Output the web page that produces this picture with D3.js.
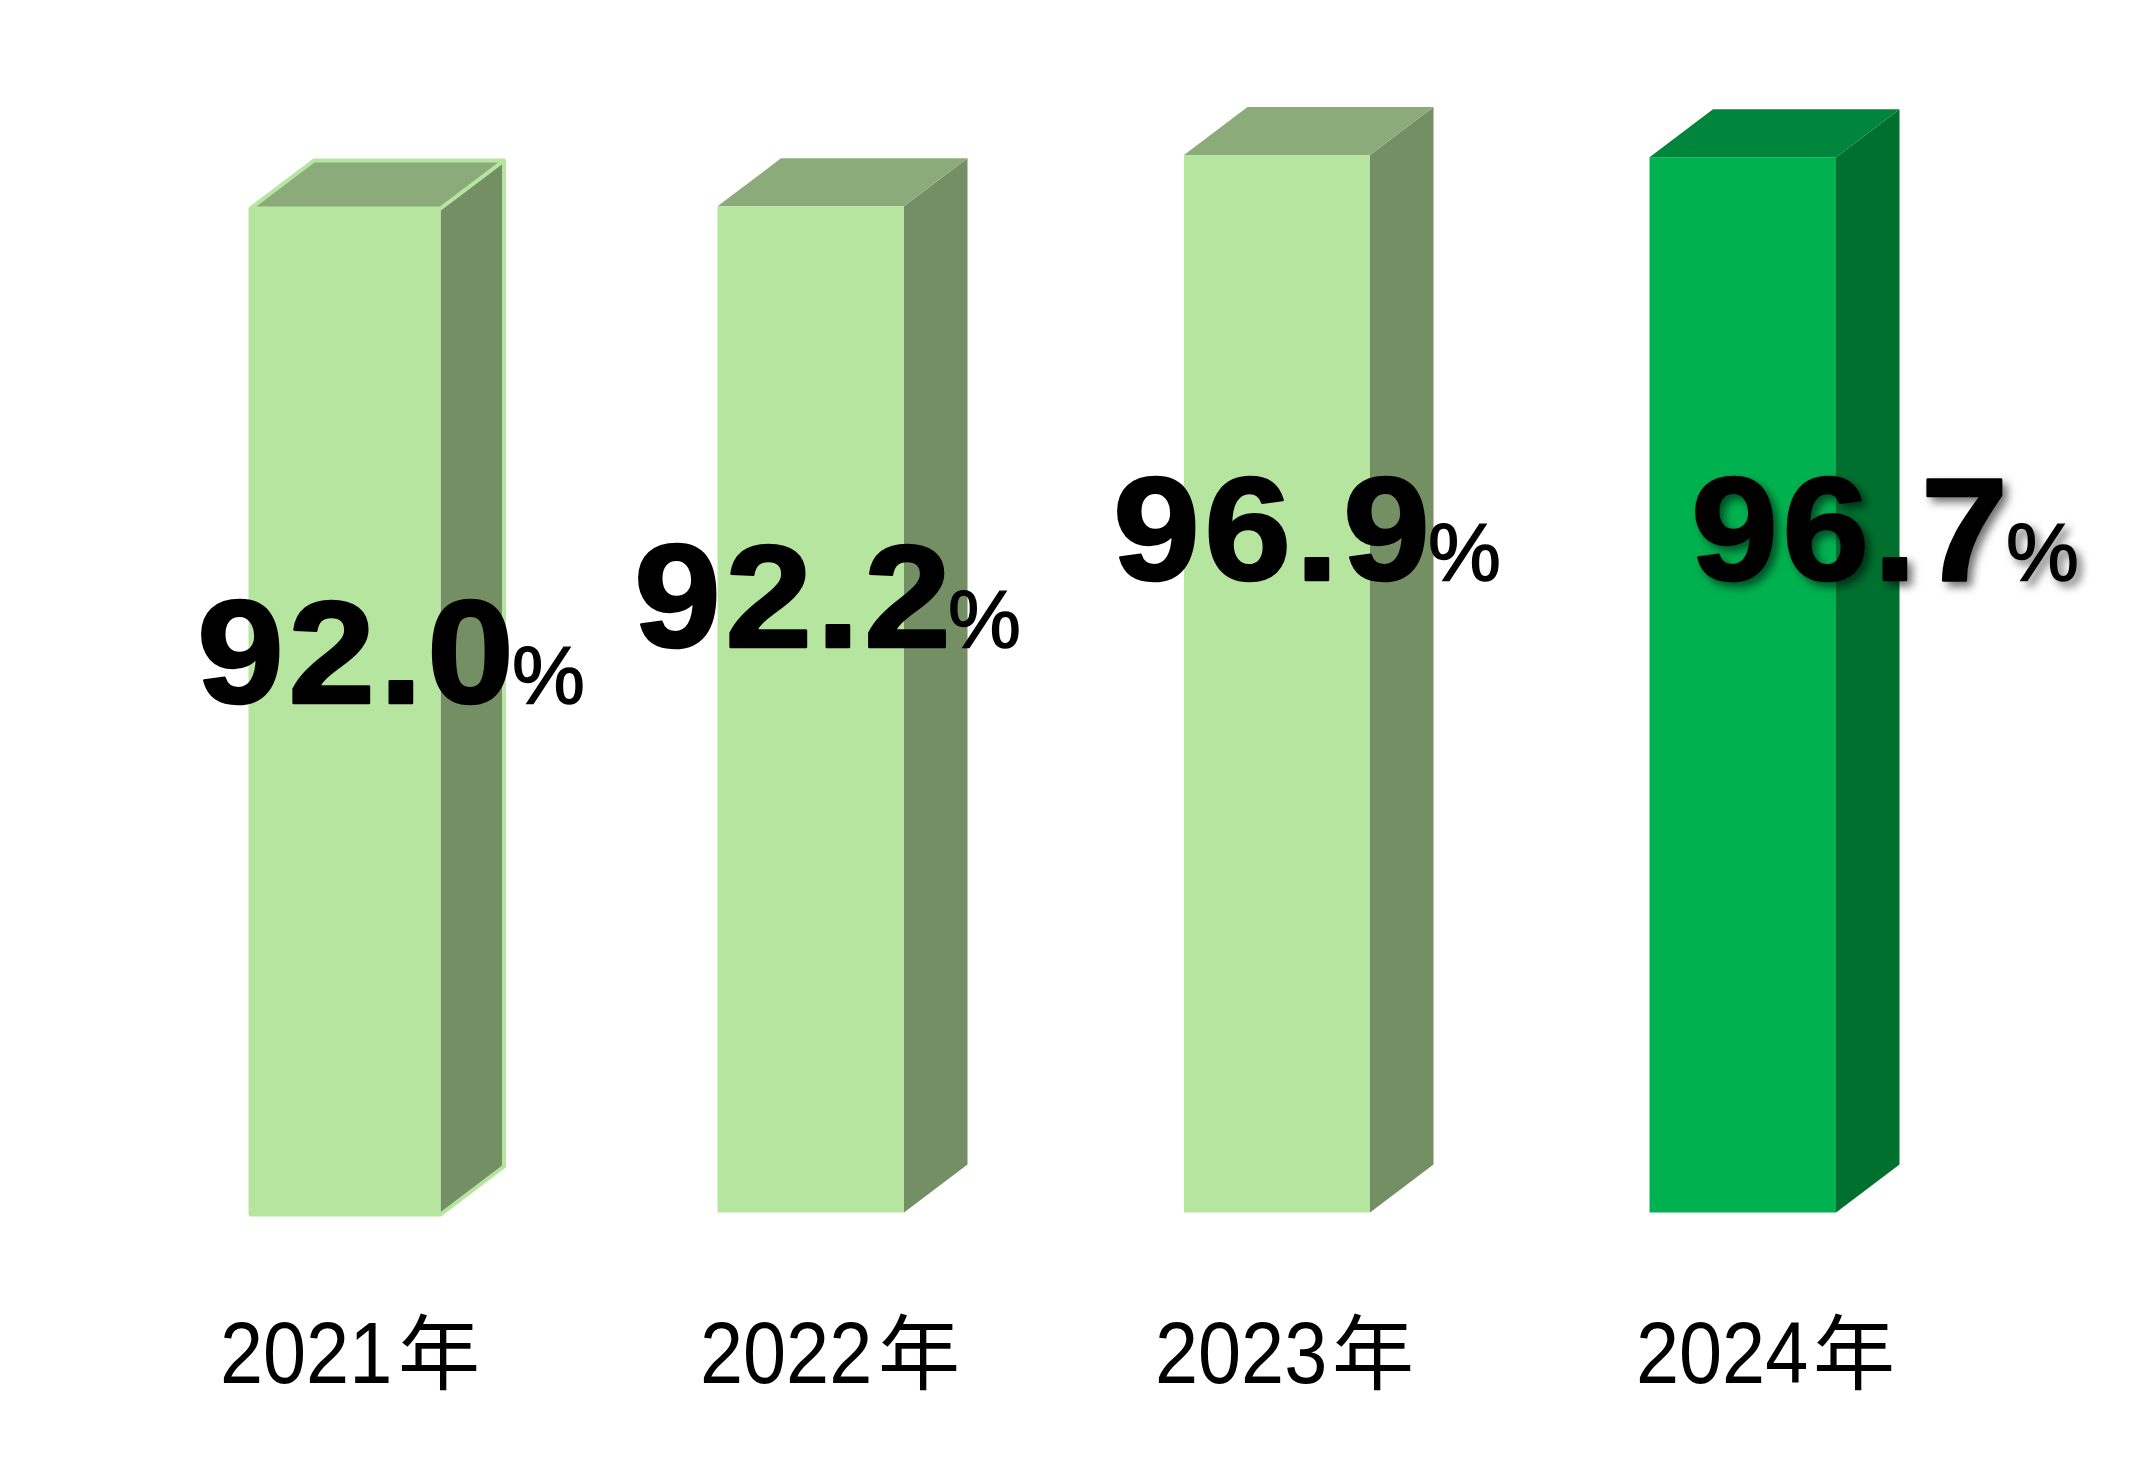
<!DOCTYPE html>
<html><head><meta charset="utf-8">
<style>html,body{margin:0;padding:0;background:#fff}svg{display:block}</style>
<script src="https://cdn.jsdelivr.net/npm/d3@7"></script></head>
<body><div id="c"></div>
<script>
const categories = ["2021","2022","2023","2024"];
const yearSuffix = "年";
const values = [92.0,92.2,96.9,96.7];
const valueLabels = ["92.0","92.2","96.9","96.7"];
const faceColors = ["#b6e5a0","#b6e5a0","#b6e5a0","#00b14f"];
const topColors = ["#8bac7a","#8bac7a","#8bac7a","#00853c"];
const sideColors = ["#748f64","#748f64","#748f64","#00702f"];
const barLeft = [250.5,717.5,1184,1649.5];
const barWidths = [190,186.5,186,186.5];
const barBase = [1214.5,1212.5,1212.5,1212.5];
const labelBase = [703,647,580,580];
const labelXs = [197,634,1113,1691];
const pctXs = [512,948,1428,2006];
const catXs = [220,700,1155,1636];
const kanjiXs = [398,878,1332,1813];

const W=2153,H=1458;
const baseY=1212.5, dx=63.5, dy=48;
const y=d3.scaleLinear().domain([0,96.9]).range([baseY,155]);
const svg=d3.select("#c").append("svg").attr("width",W).attr("height",H).attr("viewBox",[0,0,W,H]);
const f=svg.append("defs").append("filter").attr("id","sh").attr("x","-20%").attr("y","-20%").attr("width","140%").attr("height","140%");
f.append("feDropShadow").attr("dx",5).attr("dy",5).attr("stdDeviation",4).attr("flood-color","#000").attr("flood-opacity",0.55);

const g=svg.selectAll("g.bar").data(values).join("g").attr("class","bar");
g.append("path").attr("fill",(d,i)=>sideColors[i]).attr("d",(d,i)=>{const x=barLeft[i]+barWidths[i],t=y(d),b=barBase[i];return `M${x},${t}L${x+dx},${t-dy}L${x+dx},${b-dy}L${x},${b}Z`;});
g.append("path").attr("fill",(d,i)=>topColors[i]).attr("d",(d,i)=>{const x=barLeft[i],t=y(d);return `M${x},${t}L${x+dx},${t-dy}L${x+barWidths[i]+dx},${t-dy}L${x+barWidths[i]},${t}Z`;});
g.append("rect").attr("fill",(d,i)=>faceColors[i]).attr("x",(d,i)=>barLeft[i]).attr("width",(d,i)=>barWidths[i]).attr("y",d=>y(d)).attr("height",(d,i)=>barBase[i]-y(d));
g.filter((d,i)=>i===0).append("path").attr("fill","none").attr("stroke","#b6e5a0").attr("stroke-width",4).attr("stroke-linejoin","round")
 .attr("d",d=>{const x=barLeft[0],t=y(d),w=barWidths[0],b=barBase[0];return `M${x},${t}L${x+dx},${t-dy}L${x+w+dx},${t-dy}L${x+w+dx},${b-dy}L${x+w},${b}L${x},${b}ZM${x},${t}L${x+w},${t}L${x+w+dx},${t-dy}`;});

const vg=svg.selectAll("g.val").data(values).join("g").attr("class","val").attr("filter",(d,i)=>i===3?"url(#sh)":null);
vg.append("text").attr("transform",(d,i)=>`translate(${labelXs[i]},${labelBase[i]}) scale(1.07,1)`).attr("fill","#000")
 .attr("stroke","#000").attr("stroke-width",2.5).attr("stroke-linejoin","round").attr("letter-spacing",4)
 .attr("font-family","'Liberation Sans',sans-serif").attr("font-weight",700).attr("font-size",146).text((d,i)=>valueLabels[i]);
vg.append("text").attr("x",(d,i)=>pctXs[i]).attr("y",(d,i)=>labelBase[i]+1).attr("fill","#000")
 .attr("stroke","#000").attr("stroke-width",1.4)
 .attr("font-family","'Liberation Sans',sans-serif").attr("font-size",82).text("%");

const cg=svg.selectAll("g.cat").data(categories).join("g").attr("class","cat");
cg.append("text").attr("transform",(d,i)=>`translate(${catXs[i]},1383) scale(0.88,1)`).attr("fill","#000")
 .attr("font-family","'Liberation Sans',sans-serif").attr("font-size",88).text(d=>d);
cg.append("text").attr("x",(d,i)=>kanjiXs[i]).attr("y",1383).attr("fill","#000")
 .attr("font-family","'Noto Sans CJK JP',sans-serif").attr("font-size",82).text(yearSuffix);
</script></body></html>
